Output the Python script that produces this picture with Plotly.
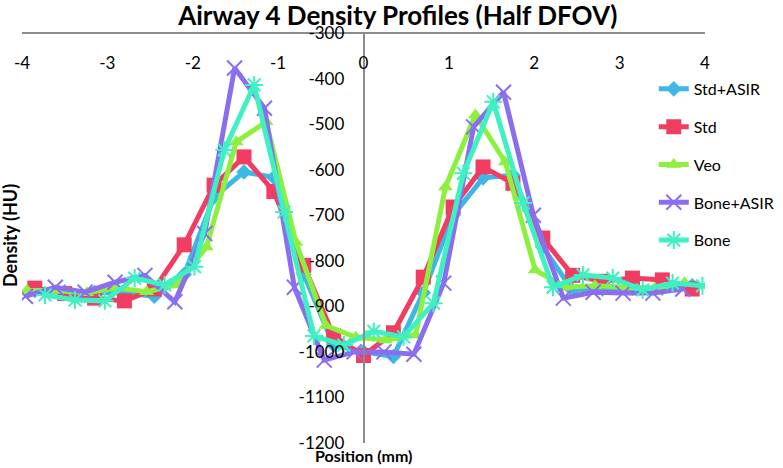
import plotly.graph_objects as go

# Sample positions (mm) for each series
x_std = [-3.85, -3.50, -3.15, -2.80, -2.45, -2.10, -1.75, -1.40, -1.05, -0.70, -0.35, 0.00,
         0.35, 0.70, 1.05, 1.40, 1.75, 2.10, 2.45, 2.80, 3.15, 3.50, 3.85]
x_veo = [-3.94, -3.59, -3.24, -2.89, -2.54, -2.19, -1.84, -1.49, -1.14, -0.79, -0.44, -0.09,
         0.26, 0.61, 0.96, 1.31, 1.66, 2.01, 2.36, 2.71, 3.06, 3.41, 3.76]
x_bone_asir = [-3.96, -3.61, -3.26, -2.91, -2.56, -2.21, -1.86, -1.51, -1.16, -0.81, -0.46, -0.11,
               0.24, 0.59, 0.94, 1.29, 1.64, 1.99, 2.34, 2.69, 3.04, 3.39, 3.74]
x_bone = [-3.73, -3.38, -3.03, -2.68, -2.33, -1.98, -1.63, -1.28, -0.93, -0.58, -0.23, 0.12,
          0.47, 0.82, 1.17, 1.52, 1.87, 2.22, 2.57, 2.92, 3.27, 3.62, 3.97]

# Density values (HU)
std_asir = [-865, -868, -870, -870, -878, -830, -660, -605, -617, -830, -985, -1000,
            -1010, -870, -700, -618, -612, -770, -865, -862, -860, -860, -855]
std = [-860, -872, -882, -888, -862, -765, -634, -572, -648, -810, -965, -1008,
       -958, -836, -682, -594, -630, -750, -832, -845, -838, -842, -862]
veo = [-865, -865, -870, -860, -868, -853, -770, -539, -495, -760, -942, -968,
       -974, -963, -638, -480, -583, -820, -858, -855, -858, -860, -848]
bone_asir = [-878, -858, -869, -847, -832, -890, -740, -377, -465, -858, -1018, -1000,
             -1000, -1005, -849, -506, -430, -700, -882, -869, -871, -871, -862]
bone = [-875, -886, -888, -838, -853, -813, -557, -414, -693, -965, -985, -955,
        -967, -893, -608, -451, -673, -858, -831, -838, -864, -849, -855]

# Tick values
x_ticks = [-4, -3, -2, -1, 0, 1, 2, 3, 4]
y_ticks = [-300, -400, -500, -600, -700, -800, -900, -1000, -1100, -1200]

names = ["Std+ASIR", "Std", "Veo", "Bone+ASIR", "Bone"]
colors = ["#3FB7E6", "#F23D63", "#8DF03E", "#8B6EF0", "#3EF0C2"]
symbols = ["diamond", "square", "triangle-up", "x-thin-open", "asterisk-open"]
sizes = [12, 15, 13, 15, 15]

series = [(x_std, std_asir), (x_std, std), (x_veo, veo), (x_bone_asir, bone_asir), (x_bone, bone)]

fig = go.Figure()
for i, ((xs, ys), name) in enumerate(zip(series, names)):
    open_sym = symbols[i].endswith("open")
    fig.add_trace(go.Scatter(
        x=xs, y=ys, name=name, mode="lines+markers",
        legendgroup=name,
        line=dict(color=colors[i], width=5),
        marker=dict(symbol=symbols[i], size=sizes[i], color=colors[i],
                    line=dict(color=colors[i], width=2 if open_sym else 0)),
    ))

font_family = "Lato, 'Open Sans', sans-serif"

fig.update_layout(
    width=783, height=468,
    margin=dict(l=22, r=78, t=33, b=25, autoexpand=False),
    paper_bgcolor="white", plot_bgcolor="white",
    font=dict(family=font_family, size=17, color="#000000"),
    title=dict(text="<b>Airway 4 Density Profiles (Half DFOV)</b>",
               x=0.508, xref="container", xanchor="center",
               y=0.966, yref="container", yanchor="middle",
               font=dict(size=26, family=font_family, color="#000000")),
    showlegend=True,
    legend=dict(x=0.925, xanchor="left", y=0.905, yanchor="top",
                bgcolor="rgba(0,0,0,0)", tracegroupgap=14,
                traceorder="grouped",
                font=dict(size=16, family=font_family, color="#000000"),
                itemwidth=30),
    xaxis=dict(range=[-4, 4], tickvals=x_ticks, ticktext=[str(v) for v in x_ticks],
               showgrid=False, zeroline=False,
               showline=True, linecolor="#8C8C8C", linewidth=1.5,
               anchor="free", position=1, side="bottom", automargin=False,
               ticks="", ticklabelstandoff=15,
               tickfont=dict(size=17, color="#000000")),
    yaxis=dict(range=[-1200, -300], tickvals=y_ticks, ticktext=[str(v) for v in y_ticks],
               showgrid=False, zeroline=False,
               showline=True, linecolor="#8C8C8C", linewidth=1.5,
               anchor="free", position=0.5, side="left", automargin=False,
               ticks="", ticklabelstandoff=15,
               tickfont=dict(size=17, color="#000000")),
    annotations=[
        dict(text="<b>Position (mm)</b>", x=0, xref="x", y=0, yref="paper",
             yanchor="top", xanchor="center", yshift=-1, showarrow=False,
             font=dict(size=16, family=font_family, color="#000000")),
        dict(text="<b>Density (HU)</b>", x=0, xref="paper", xshift=-12,
             y=0.505, yref="paper", textangle=-90, xanchor="center", yanchor="middle",
             showarrow=False, font=dict(size=18, family=font_family, color="#000000")),
    ],
)

fig.write_html(
    "out.html",
    config={"displayModeBar": False},
    post_script="document.body.style.margin='0';document.body.style.padding='0';",
)
